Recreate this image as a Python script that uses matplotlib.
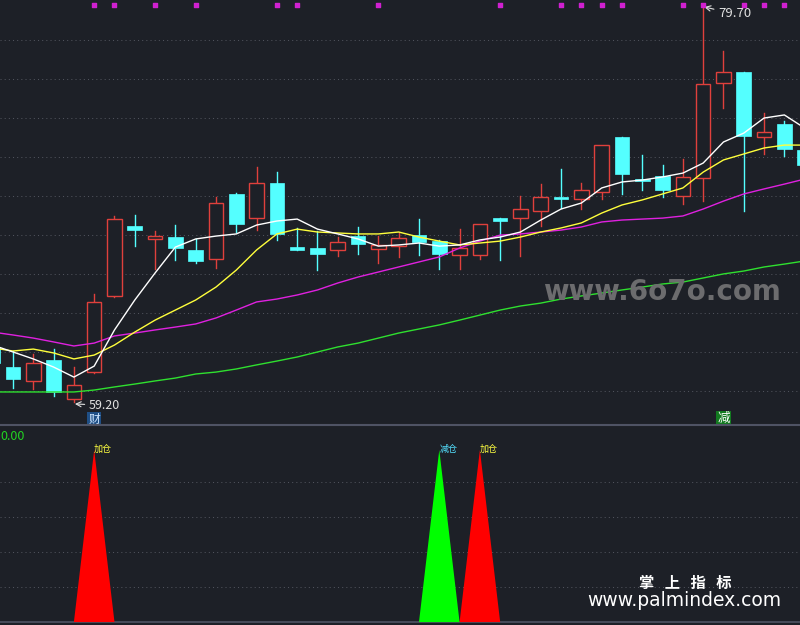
# import needed libraries
import numpy as np
import matplotlib
matplotlib.use('Agg')
import matplotlib.pyplot as plt
from matplotlib.patches import Rectangle

plt.rcParams['font.family'] = ['Noto Sans CJK SC', 'DejaVu Sans']

# candle data (index -1 is the half hidden bar at the left edge)
days = list(range(-1, 40))
opens = [62.05, 61.01, 60.29, 61.37, 59.36, 60.75, 64.69, 68.31, 67.64, 67.74,
         67.07, 66.60, 69.97, 68.72, 70.54, 67.22, 67.17, 67.07, 67.79, 67.12,
         67.27, 67.84, 67.53, 66.81, 66.81, 68.72, 68.72, 69.09, 69.81, 69.71,
         70.07, 72.92, 70.74, 70.90, 69.86, 70.79, 75.71, 76.28, 72.92, 73.59, 72.24]
highs = [62.15, 61.84, 61.68, 61.94, 61.01, 64.79, 68.83, 68.88, 68.05, 68.36,
         67.64, 69.81, 70.00, 71.36, 71.10, 68.21, 68.05, 67.74, 68.26, 67.79,
         67.95, 68.67, 67.59, 68.15, 68.41, 68.72, 69.86, 70.48, 71.26, 70.54,
         72.50, 72.92, 71.98, 71.47, 71.78, 79.70, 77.37, 76.28, 74.16, 73.74, 72.50]
lows = [61.06, 59.92, 59.87, 59.51, 59.20, 60.72, 64.63, 67.27, 66.08, 66.55,
        66.39, 66.14, 68.00, 68.10, 67.59, 67.07, 66.03, 66.76, 66.86, 66.39,
        66.71, 66.81, 66.08, 66.08, 66.60, 66.55, 66.76, 68.31, 69.24, 69.19,
        69.71, 69.97, 70.17, 69.81, 69.45, 69.60, 74.42, 69.09, 72.04, 71.93, 71.21]
closes = [61.22, 60.39, 61.22, 59.72, 60.08, 64.38, 68.67, 68.10, 67.79, 67.17,
          66.50, 69.50, 68.41, 70.54, 67.90, 67.07, 66.86, 67.48, 67.38, 67.33,
          67.69, 67.48, 66.86, 67.17, 68.41, 68.57, 69.19, 69.81, 69.71, 70.17,
          72.50, 71.00, 70.64, 70.17, 70.85, 75.66, 76.28, 72.97, 73.18, 72.30, 71.47]

# moving averages
ma_white = [62.15, 61.79, 61.43, 61.01, 60.49, 61.06, 62.93, 64.48, 65.88, 67.22,
            67.64, 67.79, 67.90, 68.36, 68.57, 68.67, 68.15, 67.90, 67.64, 67.27,
            67.33, 67.43, 67.27, 67.33, 67.59, 67.74, 68.00, 68.62, 69.19, 69.50,
            70.28, 70.59, 70.69, 70.85, 71.05, 71.57, 72.66, 73.12, 73.90, 74.06, 73.38]
ma_yellow = [62.00, 61.84, 61.94, 61.74, 61.43, 61.63, 62.15, 62.82, 63.44, 63.96,
             64.48, 65.15, 66.03, 67.07, 67.90, 68.15, 68.00, 67.95, 67.90, 67.90,
             68.00, 67.74, 67.53, 67.33, 67.43, 67.53, 67.74, 68.00, 68.21, 68.47,
             68.98, 69.40, 69.66, 69.97, 70.28, 71.10, 71.73, 72.04, 72.35, 72.50, 72.50]
ma_magenta = [62.82, 62.67, 62.51, 62.31, 62.10, 62.25, 62.62, 62.77, 62.93, 63.08,
              63.24, 63.55, 63.96, 64.38, 64.53, 64.74, 65.00, 65.36, 65.67, 65.93,
              66.19, 66.45, 66.71, 67.17, 67.53, 67.84, 67.90, 68.00, 68.10, 68.26,
              68.52, 68.62, 68.67, 68.72, 68.83, 69.19, 69.60, 69.97, 70.23, 70.48, 70.74]
ma_green = [59.72, 59.72, 59.72, 59.72, 59.72, 59.82, 59.98, 60.13, 60.29, 60.44,
            60.65, 60.75, 60.91, 61.12, 61.32, 61.53, 61.79, 62.05, 62.25, 62.51,
            62.77, 62.98, 63.19, 63.44, 63.70, 63.96, 64.17, 64.32, 64.53, 64.69,
            64.84, 65.00, 65.15, 65.31, 65.41, 65.62, 65.83, 65.98, 66.19, 66.34, 66.50]

# signals
dot_days = [4, 5, 7, 9, 13, 14, 18, 24, 27, 28, 29, 30, 33, 34, 36, 37, 38]
add_days = [4, 23]   # red triangles
cut_days = [21]      # green triangle
signal_height = 10
cai_day = 4
jian_day = 35

# colors
bg = '#1d2027'
red = '#e0403c'
cyan = '#54ffff'
grid_color = '#50535c'

fig = plt.figure(figsize=(8, 6.25), dpi=100, facecolor=bg)
ax = fig.add_axes([0, 0.32, 1, 0.68], facecolor=bg)
ax2 = fig.add_axes([0, 0, 1, 0.32], facecolor=bg)

# price panel grid
ax.set_yticks(np.linspace(59.77, 77.94, 10))
ax.grid(axis='y', color=grid_color, linestyle=(0, (1, 3)), linewidth=0.75)

# candles
w = 0.72
for d, o, h, l, c in zip(days, opens, highs, lows, closes):
    if c >= o:
        ax.plot([d, d], [l, o], color=red, lw=1, zorder=2)
        ax.plot([d, d], [c, h], color=red, lw=1, zorder=2)
        ax.add_patch(Rectangle((d - w / 2, o), w, max(c - o, 0.03), facecolor=bg,
                               edgecolor=red, lw=1, zorder=3))
    else:
        ax.plot([d, d], [l, h], color=cyan, lw=1, zorder=2)
        ax.add_patch(Rectangle((d - w / 2, c), w, max(o - c, 0.08), facecolor=cyan,
                               edgecolor=cyan, lw=0.5, zorder=3))

# moving averages
ax.plot(days, ma_green, color='#2fe02f', lw=1, zorder=4)
ax.plot(days, ma_magenta, color='#e020e0', lw=1, zorder=4)
ax.plot(days, ma_yellow, color='#ffff3c', lw=1, zorder=4)
ax.plot(days, ma_white, color='#ffffff', lw=1, zorder=4)

# top dots
ax.scatter(dot_days, [0.988] * len(dot_days), marker='s', s=9, color='#d020d0',
           transform=ax.get_xaxis_transform(), zorder=5, clip_on=False)

# low / high labels
lo_i = int(np.argmin(lows))
hi_i = int(np.argmax(highs))
ax.annotate(f'{lows[lo_i]:.2f}', xy=(days[lo_i] + 0.05, lows[lo_i] - 0.1), xytext=(10, -1),
            textcoords='offset points', color='#e0e0e0', fontsize=9, ha='left', va='center',
            arrowprops=dict(arrowstyle='->', color='#e0e0e0', lw=0.8, shrinkA=1, shrinkB=0))
ax.annotate(f'{highs[hi_i]:.2f}', xy=(days[hi_i] + 0.05, highs[hi_i] - 0.05), xytext=(10, -5),
            textcoords='offset points', color='#e0e0e0', fontsize=9.5, ha='left', va='center',
            arrowprops=dict(arrowstyle='->', color='#e0e0e0', lw=0.8, shrinkA=1, shrinkB=0))

# tags
ax.text(cai_day, 0.013, '财', transform=ax.get_xaxis_transform(), color='#cfe6ff', fontsize=8.5,
        ha='center', va='center', bbox=dict(boxstyle='square,pad=0.08', fc='#1f4f86', ec='none'))
ax.text(jian_day, 0.015, '减', transform=ax.get_xaxis_transform(), color='#ffffff', fontsize=9,
        ha='center', va='center', bbox=dict(boxstyle='square,pad=0.1', fc='#127a20', ec='none'))

ax.set_xlim(-0.64, 38.77)
ax.set_ylim(58.01, 80.01)
ax.tick_params(left=False, bottom=False, labelleft=False, labelbottom=False)
for s in ax.spines.values():
    s.set_visible(False)

# signal panel
add_sig = np.zeros(len(days))
cut_sig = np.zeros(len(days))
for d in add_days:
    add_sig[days.index(d)] = signal_height
for d in cut_days:
    cut_sig[days.index(d)] = signal_height

ax2.set_yticks(np.linspace(2.03, 8.14, 4))
ax2.grid(axis='y', color=grid_color, linestyle=(0, (1, 3)), linewidth=0.75)
ax2.fill_between(days, 0, cut_sig, color='#00ff00', lw=0, zorder=3)
ax2.fill_between(days, 0, add_sig, color='#ff0000', lw=0, zorder=3)
for d in add_days:
    ax2.text(d, signal_height + 0.05, '加仓', color='#ffff40', fontsize=6.5, ha='left', va='center', zorder=4)
for d in cut_days:
    ax2.text(d, signal_height + 0.05, '减仓', color='#54e0ff', fontsize=6.5, ha='left', va='center', zorder=4)
ax2.axhline(0, color='#4f5364', lw=1.2, zorder=2)
ax2.text(0.0, 0.94, '0.00', transform=ax2.transAxes, color='#22d422', fontsize=9, ha='left', va='center')

ax2.set_xlim(-0.64, 38.77)
ax2.set_ylim(-0.17, 11.45)
ax2.tick_params(left=False, bottom=False, labelleft=False, labelbottom=False)
for s in ax2.spines.values():
    s.set_visible(False)
ax2.spines['top'].set_visible(True)
ax2.spines['top'].set_color('#4f5364')
ax2.spines['top'].set_linewidth(1.5)

# watermarks
fig.text(0.827, 0.533, 'www.6o7o.com', color='#6c6c6e', fontsize=20, fontweight='bold',
         ha='center', va='center', family='DejaVu Sans')
fig.text(0.856, 0.067, '掌   上   指   标', color='#ffffff', fontsize=11, fontweight='bold',
         ha='center', va='center')
fig.text(0.855, 0.04, 'www.palmindex.com', color='#ffffff', fontsize=13.5, ha='center', va='center',
         family='DejaVu Sans')

fig.savefig('out.png', dpi=100, facecolor=bg)
